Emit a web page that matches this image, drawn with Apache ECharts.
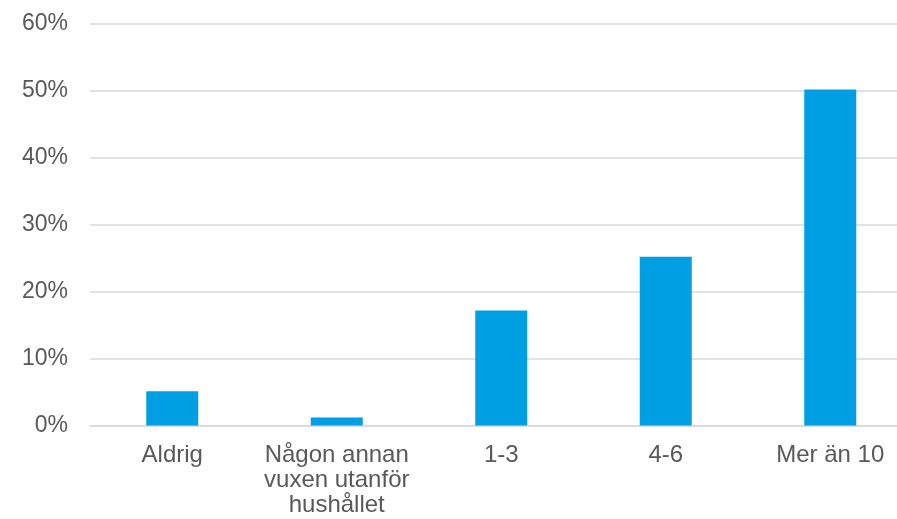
<!DOCTYPE html>
<html>
<head>
<meta charset="utf-8">
<script src="https://cdn.jsdelivr.net/npm/echarts@6/dist/echarts.min.js"></script>
<style>
html,body{margin:0;padding:0;background:#fff;}
#c{width:897px;height:519px;}
</style>
</head>
<body>
<div id="c"></div>
<script>
const categories = ['Aldrig', 'Någon annan\nvuxen utanför\nhushållet', '1-3', '4-6', 'Mer än 10'];
const values = [5.1, 1.2, 17.2, 25.2, 50.2];
const yTicks = { min: 0, max: 60, interval: 10 };

const chart = echarts.init(document.getElementById('c'), null, { renderer: 'canvas' });
chart.setOption({
  animation: false,
  backgroundColor: '#ffffff',
  grid: { left: 90, width: 822.5, top: 24, height: 401.5, containLabel: false, outerBoundsMode: 'none' },
  xAxis: {
    type: 'category',
    data: categories,
    axisLine: { show: true, lineStyle: { color: '#d9d9d9', width: 1.5 } },
    axisTick: { show: false },
    axisLabel: {
      color: '#595959',
      fontFamily: 'Liberation Sans, Arial, sans-serif',
      fontSize: 24,
      lineHeight: 25,
      margin: 17,
      interval: 0
    }
  },
  yAxis: {
    type: 'value',
    min: yTicks.min,
    max: yTicks.max,
    interval: yTicks.interval,
    axisLine: { show: false },
    axisTick: { show: false },
    splitLine: { lineStyle: { color: '#d9d9d9', width: 1.5 } },
    axisLabel: {
      color: '#595959',
      fontFamily: 'Liberation Sans, Arial, sans-serif',
      fontSize: 23,
      margin: 22,
      formatter: v => v + '%'
    }
  },
  series: [{
    type: 'bar',
    data: values,
    barWidth: 52,
    itemStyle: { color: '#009FE3' }
  }]
});
</script>
</body>
</html>
